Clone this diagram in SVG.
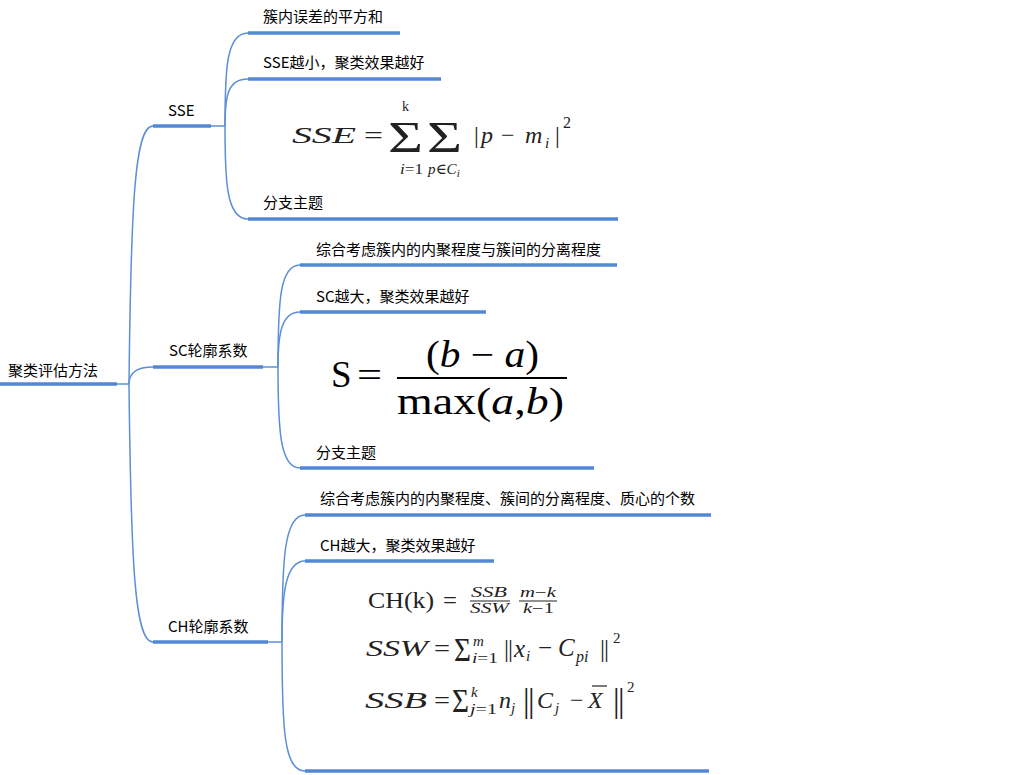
<svg xmlns="http://www.w3.org/2000/svg" width="1016" height="775" viewBox="0 0 1016 775">
<style>
.t{font-family:"Noto Sans CJK SC","Noto Sans",sans-serif;font-size:15px;fill:#000}
.u{stroke:#5287d4;stroke-width:3.4;fill:none}
.c{stroke:#5b8fd8;stroke-width:1.5;fill:none}
.m{font-family:"Liberation Serif","DejaVu Serif",serif;fill:#222}
.i{font-style:italic}
.k{fill:#000}
</style>
<rect width="1016" height="775" fill="#fff"/>
<g id="connectors">
<path class="c" d="M117 384H129"/>
<path class="c" d="M129 384C131 200 135 126 153 126"/>
<path class="c" d="M129 384C131 568 135 642 153 642"/>
<path class="c" d="M129 384C129 372 138 367 153 367"/>
<path class="c" d="M211 126H225"/>
<path class="c" d="M225 126C225 70 226 33 248 33"/>
<path class="c" d="M225 126C225 95 228 79 248 79"/>
<path class="c" d="M225 126C225 180 226 219 248 219"/>
<path class="c" d="M263 367H278"/>
<path class="c" d="M278 367C278 300 280 265 300 265"/>
<path class="c" d="M278 367C278 335 281 312 300 312"/>
<path class="c" d="M278 367C278 430 280 468 300 468"/>
<path class="c" d="M268 642H282"/>
<path class="c" d="M282 642C282 560 284 515 305 515"/>
<path class="c" d="M282 642C282 595 285 561 305 561"/>
<path class="c" d="M282 642C282 730 284 771 305 771"/>
</g>
<g id="root">
<text class="t" x="8" y="376">聚类评估方法</text>
<path class="u" d="M0 384H117"/>
</g>
<g id="sse">
<text class="t" x="168" y="116">SSE</text>
<path class="u" d="M153 126H211"/>
</g>
<g id="sse-def">
<text class="t" x="263" y="22">簇内误差的平方和</text>
<path class="u" d="M248 33H400"/>
</g>
<g id="sse-good">
<text class="t" x="263" y="68">SSE越小，聚类效果越好</text>
<path class="u" d="M248 79H441"/>
</g>
<g id="sse-formula">
<text class="m i" font-size="24" x="292" y="143" textLength="64" lengthAdjust="spacingAndGlyphs">SSE</text>
<text class="m" font-size="24" x="364" y="143" textLength="19" lengthAdjust="spacingAndGlyphs">=</text>
<text class="m" font-size="45" x="388" y="152" textLength="35" lengthAdjust="spacingAndGlyphs">Σ</text>
<text class="m" font-size="45" x="427" y="152" textLength="35" lengthAdjust="spacingAndGlyphs">Σ</text>
<text class="m" font-size="14" x="402" y="111">k</text>
<text class="m" font-size="15" x="400" y="174" textLength="23" lengthAdjust="spacingAndGlyphs"><tspan class="i">i</tspan>=1</text>
<text class="m i" font-size="15" x="428" y="174">p<tspan font-style="normal">∈</tspan>C<tspan font-size="11" y="177">i</tspan></text>
<text class="m" font-size="24" y="143"><tspan x="474">|</tspan><tspan x="481" class="i">p</tspan><tspan x="501">−</tspan><tspan x="525" class="i">m</tspan><tspan x="545" y="148" font-size="15" class="i">i</tspan><tspan x="555" y="143">|</tspan><tspan x="563" y="128" font-size="16">2</tspan></text>
<text class="t" x="263" y="208">分支主题</text>
<path class="u" d="M248 219H618"/>
</g>
<g id="sc">
<text class="t" x="169" y="356">SC轮廓系数</text>
<path class="u" d="M153 367H263"/>
</g>
<g id="sc-def">
<text class="t" x="316" y="255">综合考虑簇内的内聚程度与簇间的分离程度</text>
<path class="u" d="M300 265H617"/>
</g>
<g id="sc-good">
<text class="t" x="316" y="302">SC越大，聚类效果越好</text>
<path class="u" d="M300 312H486"/>
</g>
<g id="sc-formula">
<text class="m k" font-size="37" x="331" y="387">S</text>
<text class="m k" font-size="36" x="357" y="387" textLength="25" lengthAdjust="spacingAndGlyphs">=</text>
<line x1="397" y1="378" x2="567" y2="378" stroke="#000" stroke-width="1.8"/>
<text class="m k" font-size="37" x="426" y="367" textLength="113" lengthAdjust="spacingAndGlyphs">(<tspan class="i">b</tspan> − <tspan class="i">a</tspan>)</text>
<text class="m k" font-size="37" x="397" y="414" textLength="167" lengthAdjust="spacingAndGlyphs">max(<tspan class="i">a</tspan>,<tspan class="i">b</tspan>)</text>
<text class="t" x="316" y="458">分支主题</text>
<path class="u" d="M300 468H594"/>
</g>
<g id="ch">
<text class="t" x="168" y="632">CH轮廓系数</text>
<path class="u" d="M153 642H268"/>
</g>
<g id="ch-def">
<text class="t" x="320" y="504">综合考虑簇内的内聚程度、簇间的分离程度、质心的个数</text>
<path class="u" d="M305 515H711"/>
</g>
<g id="ch-good">
<text class="t" x="320" y="551">CH越大，聚类效果越好</text>
<path class="u" d="M305 561H494"/>
</g>
<g id="ch-formula">
<text class="m" font-size="24" x="368" y="608" textLength="66" lengthAdjust="spacingAndGlyphs">CH(k)</text>
<text class="m" font-size="24" x="443" y="608" textLength="14" lengthAdjust="spacingAndGlyphs">=</text>
<text class="m i" font-size="14" x="471" y="597" textLength="36" lengthAdjust="spacingAndGlyphs">SSB</text>
<line x1="470" y1="601" x2="510" y2="601" stroke="#222" stroke-width="1"/>
<text class="m i" font-size="14" x="470" y="613" textLength="39" lengthAdjust="spacingAndGlyphs">SSW</text>
<text class="m i" font-size="14" x="520" y="597" textLength="36" lengthAdjust="spacingAndGlyphs">m<tspan font-style="normal">−</tspan>k</text>
<line x1="519" y1="601" x2="557" y2="601" stroke="#222" stroke-width="1"/>
<text class="m i" font-size="14" x="523" y="613" textLength="31" lengthAdjust="spacingAndGlyphs">k<tspan font-style="normal">−1</tspan></text>

<text class="m i" font-size="24" x="366" y="656" textLength="62" lengthAdjust="spacingAndGlyphs">SSW</text>
<text class="m" font-size="24" x="434" y="656" textLength="16" lengthAdjust="spacingAndGlyphs">=</text>
<text class="m" font-size="34" x="454" y="661" textLength="17" lengthAdjust="spacingAndGlyphs">Σ</text>
<text class="m i" font-size="15" x="473" y="646">m</text>
<text class="m" font-size="15" x="472" y="663" textLength="26" lengthAdjust="spacingAndGlyphs"><tspan class="i">i</tspan>=1</text>
<text class="m" font-size="25" y="657"><tspan x="504">|</tspan><tspan x="508">|</tspan><tspan x="514" class="i">x</tspan><tspan x="526" y="661" font-size="15" class="i">i</tspan><tspan x="538" y="656">−</tspan><tspan x="558" class="i">C</tspan><tspan x="576" y="662" font-size="16" class="i">pi</tspan><tspan x="600" y="657">|</tspan><tspan x="604">|</tspan><tspan x="613" y="643" font-size="15">2</tspan></text>

<text class="m i" font-size="24" x="365" y="708" textLength="62" lengthAdjust="spacingAndGlyphs">SSB</text>
<text class="m" font-size="24" x="434" y="708" textLength="16" lengthAdjust="spacingAndGlyphs">=</text>
<text class="m" font-size="34" x="452" y="712" textLength="17" lengthAdjust="spacingAndGlyphs">Σ</text>
<text class="m i" font-size="15" x="471" y="697">k</text>
<text class="m" font-size="15" x="470" y="714" textLength="27" lengthAdjust="spacingAndGlyphs"><tspan class="i">j</tspan>=1</text>
<text class="m" font-size="24" y="708"><tspan x="499" class="i">n</tspan><tspan x="511" y="713" font-size="15" class="i">j</tspan><tspan x="523" y="712" font-size="33">|</tspan><tspan x="528" font-size="33">|</tspan><tspan x="537" y="708" class="i">C</tspan><tspan x="555" y="713" font-size="15" class="i">j</tspan><tspan x="570" y="708">−</tspan><tspan x="588" class="i">X</tspan><tspan x="613" y="712" font-size="33">|</tspan><tspan x="618" font-size="33">|</tspan><tspan x="627" y="692" font-size="15">2</tspan></text>
<line x1="592" y1="686" x2="607" y2="686" stroke="#222" stroke-width="1.2"/>
<path class="u" d="M305 771H709"/>
</g>
</svg>
